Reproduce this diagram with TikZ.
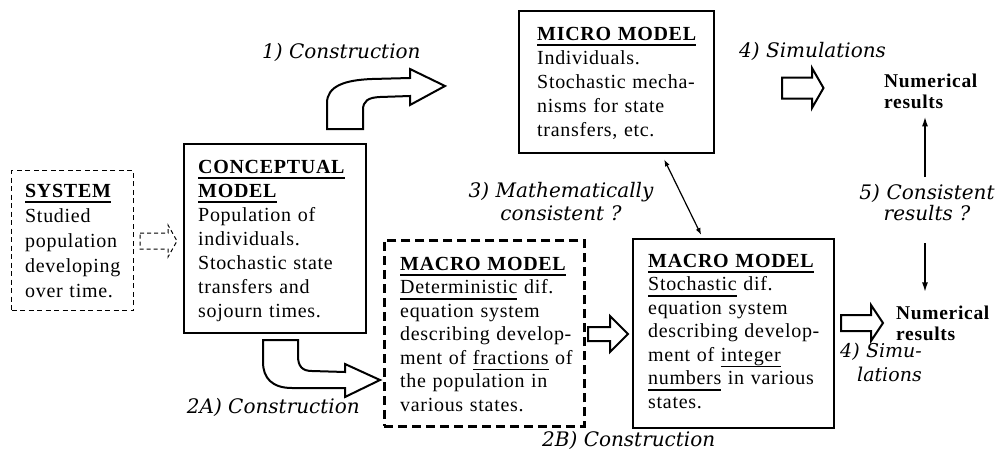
\documentclass[tikz,border=0pt]{standalone}
\usepackage{fontspec}
\setmainfont{Liberation Serif}[LetterSpace=3.5]
\newfontfamily\labfont{DejaVu Serif}
\usetikzlibrary{arrows.meta}
\newcommand\hdul[1]{\leavevmode\setbox0\hbox{#1}\rlap{\rule[-5.5pt]{\wd0}{2pt}}\box0\relax}
\newcommand\bdul[1]{\leavevmode\setbox0\hbox{#1}\rlap{\rule[-6pt]{\wd0}{1.1pt}}\box0\relax}
\tikzset{
  solidbox/.style={draw, line width=2.4pt, inner sep=0, anchor=north west},
  sysbox/.style={draw, line width=1pt, dash pattern=on 5pt off 3.5pt, inner sep=0, anchor=north west},
  detbox/.style={draw, line width=2.6pt, dash pattern=on 9pt off 5pt, inner sep=0, anchor=north west},
  bodytext/.style={inner sep=0, anchor=base west, text width=#1, align=left},
  lbl/.style={inner sep=0, font=\labfont\itshape\fontsize{20}{23}\selectfont},
  numres/.style={inner sep=0, anchor=base west, align=left, text width=110pt,
     font=\bfseries\fontsize{19.5}{21}\selectfont},
  blockarrow/.style={draw, line width=2pt, fill=white, line join=miter},
  thinarrow/.style={line width=1.2pt, {Latex[length=7pt,width=5pt]}-{Latex[length=7pt,width=5pt]}},
  vertarrow/.style={line width=2.4pt, -{Latex[length=11pt,width=6pt]}},
}
\begin{document}
\begin{tikzpicture}[x=1pt,y=-1pt]
\fill[white] (0,0) rectangle (997,461);
\useasboundingbox (0,0) rectangle (997,461);

% boxes
\node[sysbox, minimum width=122pt, minimum height=140pt] (sys) at (11,170) {};
\node[solidbox, minimum width=182pt, minimum height=189pt] (concept) at (183,143) {};
\node[solidbox, minimum width=195pt, minimum height=142pt] (micro) at (518,10) {};
\node[detbox, minimum width=200pt, minimum height=186pt] (det) at (383,239) {};
\node[solidbox, minimum width=201pt, minimum height=189pt] (stoch) at (632,238) {};

% box texts
\node[bodytext=115pt, font=\fontsize{20}{25}\selectfont] (systxt) at (25,197)
  {\textbf{\hdul{SYSTEM}}\\Studied\\population\\developing\\over time.};
\node[bodytext=170pt, font=\fontsize{20}{24}\selectfont] (concepttxt) at (198,173)
  {\textbf{\hdul{CONCEPTUAL}}\\\textbf{\hdul{MODEL}}\\Population of\\individuals.\\Stochastic state\\transfers and\\sojourn times.};
\node[bodytext=180pt, font=\fontsize{20}{24}\selectfont] (microtxt) at (537,40)
  {\textbf{\hdul{MICRO MODEL}}\\Individuals.\\Stochastic mecha-\\nisms for state\\transfers, etc.};
\node[bodytext=185pt, font=\fontsize{20}{23.5}\selectfont] (dettxt) at (400,270)
  {\textbf{\hdul{MACRO MODEL}}\\\bdul{Deterministic} dif.\\equation system\\describing develop-\\ment of \bdul{fractions} of\\the population in\\various states.};
\node[bodytext=185pt, font=\fontsize{20}{23.5}\selectfont] (stochtxt) at (648,267)
  {\textbf{\hdul{MACRO MODEL}}\\\bdul{Stochastic} dif.\\equation system\\describing develop-\\ment of \bdul{integer}\\\bdul{numbers} in various\\states.};

% numerical results
\node[numres] (numtop) at (884,87) {Numerical\\results};
\node[numres] (numbot) at (896,319) {Numerical\\results};

% labels
\node[lbl, anchor=base west] (c1) at (262,58) {1) Construction};
\node[lbl, anchor=base west] (sim1) at (739,57) {4) Simulations};
\node[lbl, anchor=base east] (c2a) at (360,413) {2A) Construction};
\node[lbl, anchor=base west] (c2b) at (542,446) {2B) Construction};
\node[lbl, anchor=base, text width=210pt, align=center] (math) at (561,197) {3) Mathematically\\consistent ?};
\node[lbl, anchor=base, text width=160pt, align=center, font=\labfont\itshape\fontsize{20}{21.5}\selectfont] (cons) at (927,199) {5) Consistent\\results ?};
\node[lbl, anchor=base west, text width=100pt, align=left, font=\labfont\itshape\fontsize{19}{24}\selectfont] (sim2) at (840,357) {4) Simu-\\\hspace*{17pt}lations};

% block arrows
\draw[line width=1pt, dash pattern=on 4pt off 3pt, line join=miter]
  (140,233) -- (168,233) -- (168,225) -- (177,241) -- (168,257) -- (168,249) -- (140,249) -- cycle;
\draw[blockarrow] (327,129) -- (327,103) .. controls (327,86) and (345,80) .. (372,79)
  -- (410,78) -- (410,69) -- (445,86) -- (410,105) -- (410,96) -- (380,97)
  .. controls (368,97.5) and (363,101) .. (363,110) -- (363,129) -- cycle;
\draw[blockarrow] (263,340) -- (298,340) -- (298,356) .. controls (298,366) and (302,371) .. (312,371)
  -- (345,372) -- (345,364) -- (380,380) -- (345,397) -- (345,388) -- (292,388)
  .. controls (272,388) and (263,378) .. (263,362) -- cycle;
\draw[blockarrow] (588,327) -- (610,327) -- (610,316) -- (628,334) -- (610,352) -- (610,341) -- (588,341) -- cycle;
\draw[blockarrow] (782,77.5) -- (812,77.5) -- (812,68) -- (823.5,88) -- (812,108) -- (812,98.5) -- (782,98.5) -- cycle;
\draw[blockarrow] (841,315) -- (871,315) -- (871,305) -- (883,323) -- (871,341) -- (871,331) -- (841,331) -- cycle;

% thin connectors
\draw[thinarrow] ([xshift=47.5pt,yshift=-5pt]micro.south) -- ([xshift=-32.5pt,yshift=3pt]stoch.north);
\coordinate (upS) at (925,177);
\coordinate (dnS) at (925,243);
\draw[vertarrow] (upS) -- ([yshift=-7pt]numtop.south -| upS);
\draw[vertarrow] (dnS) -- ([yshift=12pt]numbot.north -| dnS);
\end{tikzpicture}
\end{document}
